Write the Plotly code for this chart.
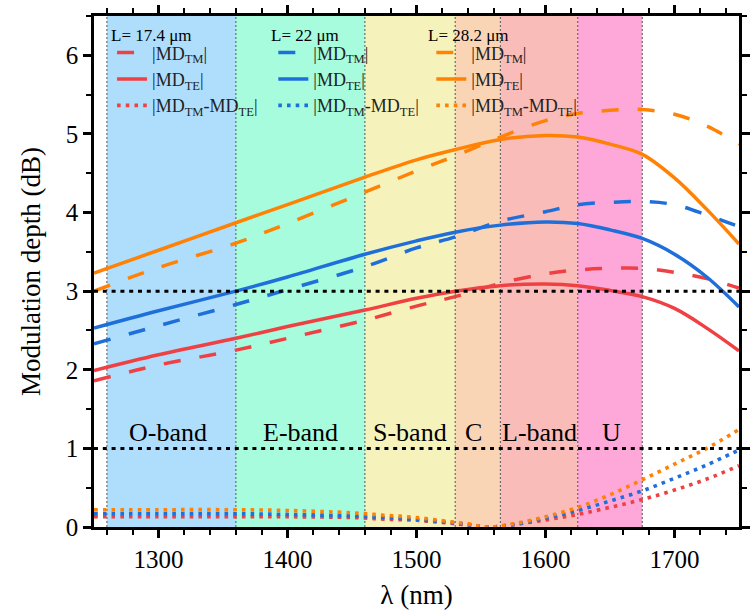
import plotly.graph_objects as go

# ---------------- data ----------------
wl = [1250, 1300, 1360, 1400, 1460, 1500, 1530, 1565, 1600, 1625, 1650, 1675, 1700, 1725, 1750]

red_tm = [1.86, 2.06, 2.25, 2.40, 2.63, 2.81, 2.93, 3.10, 3.22, 3.27, 3.29, 3.29, 3.24, 3.16, 3.04]
red_te = [1.99, 2.19, 2.40, 2.55, 2.76, 2.91, 3.00, 3.07, 3.09, 3.07, 3.01, 2.93, 2.78, 2.53, 2.24]
blue_tm = [2.33, 2.56, 2.83, 3.02, 3.31, 3.55, 3.69, 3.89, 4.01, 4.10, 4.13, 4.14, 4.10, 3.97, 3.82]
blue_te = [2.53, 2.75, 3.00, 3.18, 3.47, 3.64, 3.75, 3.84, 3.88, 3.86, 3.78, 3.67, 3.47, 3.18, 2.80]
orange_tm = [3.00, 3.30, 3.61, 3.86, 4.26, 4.53, 4.72, 4.96, 5.17, 5.26, 5.30, 5.31, 5.25, 5.10, 4.87]
orange_te = [3.23, 3.52, 3.87, 4.10, 4.45, 4.67, 4.80, 4.93, 4.98, 4.96, 4.87, 4.74, 4.44, 4.04, 3.60]

wl_diff = [1250, 1300, 1350, 1400, 1450, 1475, 1500, 1525, 1540, 1555, 1575, 1600, 1625, 1650, 1675, 1700, 1725, 1750]
red_diff = [0.13, 0.13, 0.13, 0.13, 0.12, 0.10, 0.085, 0.05, 0.025, 0.0, 0.03, 0.09, 0.16, 0.25, 0.35, 0.47, 0.61, 0.78]
blue_diff = [0.17, 0.17, 0.17, 0.16, 0.14, 0.12, 0.095, 0.06, 0.03, 0.0, 0.03, 0.11, 0.21, 0.33, 0.46, 0.62, 0.79, 0.98]
orange_diff = [0.22, 0.22, 0.22, 0.21, 0.18, 0.15, 0.12, 0.07, 0.04, 0.0, 0.04, 0.13, 0.25, 0.41, 0.60, 0.80, 1.00, 1.24]

band_edges = [1260, 1360, 1460, 1530, 1565, 1625, 1675]
band_names = ["O-band", "E-band", "S-band", "C", "L-band", "U"]
band_colors = ["#AEDEFC", "#A6FCDC", "#F5F3BB", "#F9D5B6", "#FABCB8", "#FDA8D9"]
band_label_x = [1307, 1410, 1495, 1544, 1595, 1651]
band_label_y = 1.2

ref_levels = [1, 3]

lengths = ["L= 17.4 \u03bcm", "L= 22 \u03bcm", "L= 28.2 \u03bcm"]
colors = ["#EF4044", "#1F6FDB", "#FF8205"]

# ---------------- figure ----------------
SERIF = "Liberation Serif"
fig = go.Figure()

series = [(red_tm, red_te, red_diff), (blue_tm, blue_te, blue_diff), (orange_tm, orange_te, orange_diff)]
legend_ids = ["legend", "legend2", "legend3"]
for (tm, te, df), col, lg in zip(series, colors, legend_ids):
    fig.add_trace(go.Scatter(x=wl, y=tm, mode="lines", name="|MD<sub>TM</sub>|",
                             line=dict(color=col, width=3.5, dash="17px,19px", shape="spline"),
                             legend=lg))
    fig.add_trace(go.Scatter(x=wl, y=te, mode="lines", name="|MD<sub>TE</sub>|",
                             line=dict(color=col, width=3.5, shape="spline"),
                             legend=lg))
    fig.add_trace(go.Scatter(x=wl_diff, y=df, mode="lines", name="|MD<sub>TM</sub>-MD<sub>TE</sub>|",
                             line=dict(color=col, width=3.6, dash="3.6px,5.1px", shape="spline"),
                             legend=lg))

shapes = []
for i, c in enumerate(band_colors):
    shapes.append(dict(type="rect", xref="x", yref="paper", x0=band_edges[i], x1=band_edges[i + 1],
                       y0=0, y1=1, fillcolor=c, line=dict(width=0), layer="below"))
for e in band_edges:
    shapes.append(dict(type="line", xref="x", yref="paper", x0=e, x1=e, y0=0, y1=1,
                       line=dict(color="#555555", width=1, dash="2px,2px"), layer="below"))
for r in ref_levels:
    shapes.append(dict(type="line", xref="paper", yref="y", x0=0, x1=1, y0=r, y1=r,
                       line=dict(color="black", width=3, dash="4px,4.8px"), layer="above"))

annotations = []
for name, xl in zip(band_names, band_label_x):
    annotations.append(dict(x=xl, y=band_label_y, xref="x", yref="y", text=name, showarrow=False,
                            font=dict(family=SERIF, size=26, color="black")))

# legend group titles (as text) and legend boxes
title_x = [0.023, 0.272, 0.515]
for t, tx in zip(lengths, title_x):
    annotations.append(dict(x=tx, y=0.962, xref="paper", yref="paper", text=t, showarrow=False,
                            xanchor="left", yanchor="middle",
                            font=dict(family=SERIF, size=17, color="black")))

leg_x = [0.028, 0.278, 0.523]
legend_common = dict(y=0.964, yanchor="top", xanchor="left", bgcolor="rgba(0,0,0,0)",
                     borderwidth=0, font=dict(family=SERIF, size=18, color="#222"),
                     tracegroupgap=0, itemwidth=30)
for lg, lx in zip(legend_ids, leg_x):
    fig.update_layout({lg: dict(x=lx, **legend_common)})

axis_common = dict(showline=True, linewidth=2.5, linecolor="black", mirror="allticks",
                   ticks="outside", ticklen=8, tickwidth=2.5, tickcolor="black",
                   showgrid=False, zeroline=False,
                   tickfont=dict(family=SERIF, size=25, color="black"))

fig.update_layout(
    width=755, height=616,
    margin=dict(l=94, r=5, t=14, b=89),
    font=dict(family=SERIF, color="black"),
    plot_bgcolor="white", paper_bgcolor="white",
    shapes=shapes, annotations=annotations,
    showlegend=True,
    xaxis=dict(range=[1250, 1750], dtick=100, tick0=1300,
               minor=dict(dtick=20, ticklen=5, tickwidth=2, tickcolor="black", ticks="outside"),
               title=dict(text="\u03bb (nm)", font=dict(family=SERIF, size=27, color="black"), standoff=14),
               **axis_common),
    yaxis=dict(range=[0, 6.5], dtick=1, tick0=0,
               minor=dict(dtick=0.5, ticklen=5, tickwidth=2, tickcolor="black", ticks="outside"),
               title=dict(text="Modulation depth (dB)", font=dict(family=SERIF, size=27, color="black"), standoff=18),
               **axis_common),
)

fig.write_html("out.html")
